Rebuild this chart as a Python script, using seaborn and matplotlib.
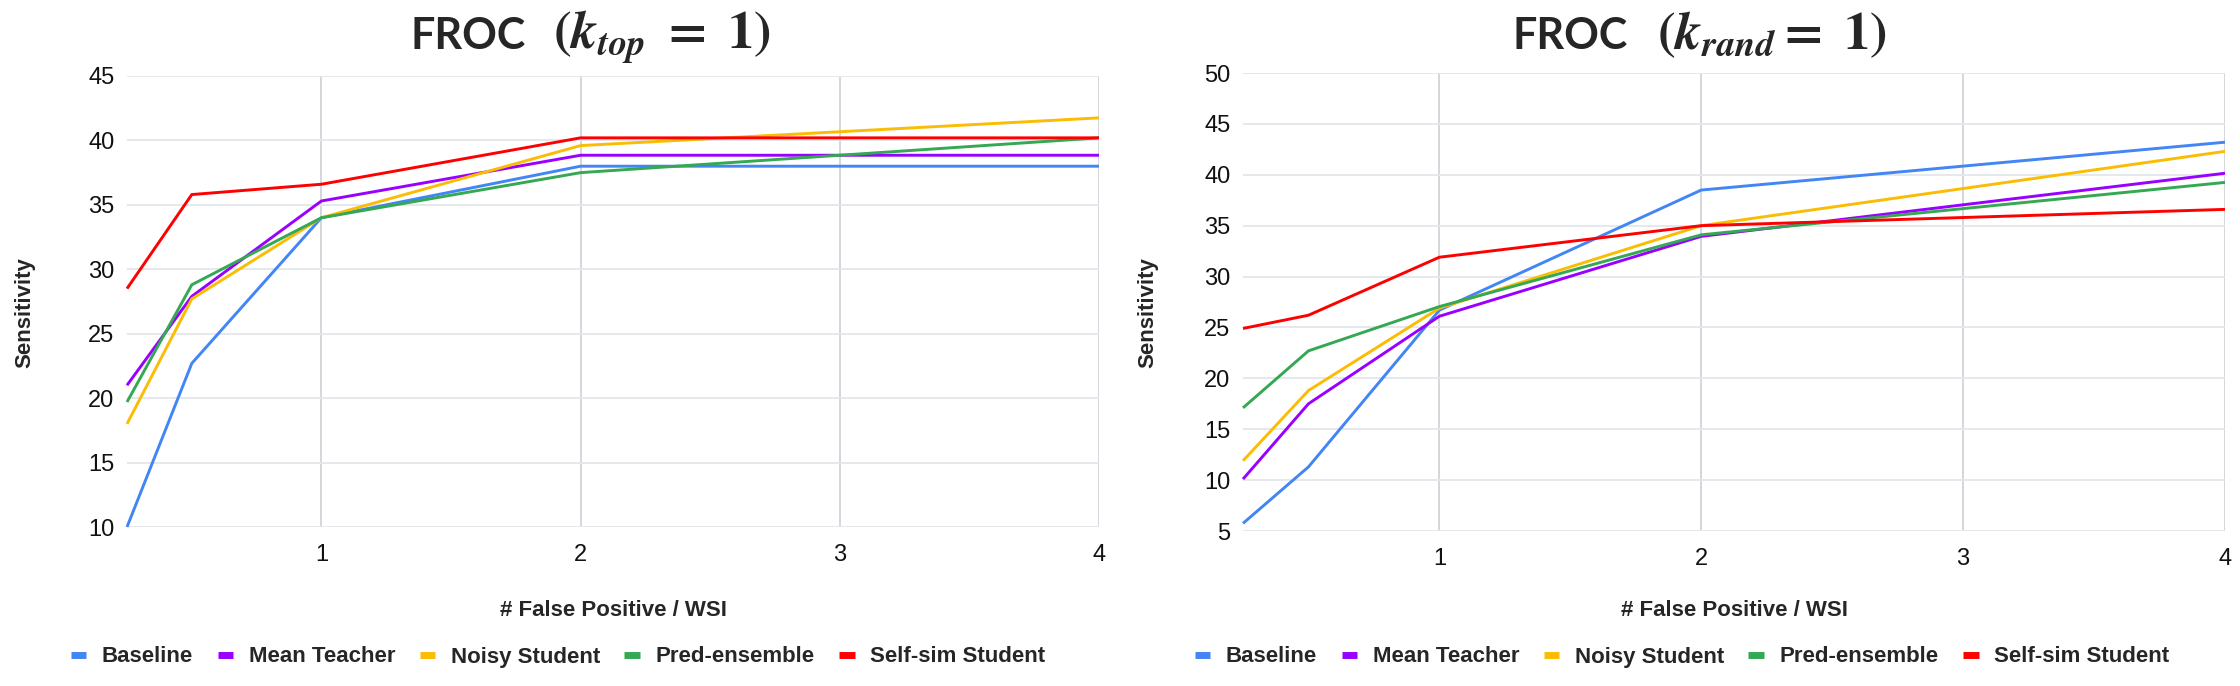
import numpy as np
import pandas as pd
import matplotlib
matplotlib.use("Agg")
import matplotlib.pyplot as plt
from matplotlib.lines import Line2D
import seaborn as sns

# ---------------- data ----------------
methods = ["Baseline", "Mean Teacher", "Noisy Student", "Pred-ensemble", "Self-sim Student"]
fp_per_wsi = [0.25, 0.5, 1, 2, 4]

top_baseline = [10.0, 22.7, 34.0, 38.0, 38.0]
top_mean_teacher = [21.0, 27.9, 35.3, 38.85, 38.85]
top_noisy_student = [18.0, 27.7, 34.0, 39.6, 41.75]
top_pred_ensemble = [19.7, 28.8, 34.0, 37.5, 40.2]
top_self_sim = [28.5, 35.8, 36.6, 40.2, 40.2]

rand_baseline = [5.75, 11.3, 26.7, 38.5, 43.2]
rand_mean_teacher = [10.1, 17.5, 26.1, 33.95, 40.15]
rand_noisy_student = [11.9, 18.8, 26.9, 35.0, 42.3]
rand_pred_ensemble = [17.1, 22.7, 27.05, 34.1, 39.25]
rand_self_sim = [24.9, 26.2, 31.9, 35.0, 36.6]

colors = ["#4285F4", "#9900FF", "#FBBC04", "#34A853", "#FF0000"]

top_series = [top_baseline, top_mean_teacher, top_noisy_student, top_pred_ensemble, top_self_sim]
rand_series = [rand_baseline, rand_mean_teacher, rand_noisy_student, rand_pred_ensemble, rand_self_sim]


def long_df(series):
    rows = []
    for m, vals in zip(methods, series):
        for x, v in zip(fp_per_wsi, vals):
            rows.append({"fp": x, "sens": v, "method": m})
    return pd.DataFrame(rows)


df_top = long_df(top_series)
df_rand = long_df(rand_series)
palette = dict(zip(methods, colors))

# ---------------- style ----------------
sns.set_style("white")
plt.rcParams["font.family"] = ["Liberation Sans", "DejaVu Sans"]
plt.rcParams["mathtext.fontset"] = "stix"

W, H = 2240, 686
fig = plt.figure(figsize=(W / 100, H / 100), dpi=100)


def fx(px):
    return px / W


def fy(py):
    return 1 - py / H


ax1 = fig.add_axes([fx(127), fy(527), fx(1099) - fx(127), fy(76) - fy(527)])
ax2 = fig.add_axes([fx(1243), fy(531), fx(2225) - fx(1243), fy(73) - fy(531)])

for ax, df, ylim in [(ax1, df_top, (10, 45)), (ax2, df_rand, (5, 50))]:
    sns.lineplot(data=df, x="fp", y="sens", hue="method", palette=palette,
                 hue_order=methods, ax=ax, linewidth=2.1, legend=False,
                 errorbar=None, sort=True)
    ax.set_xlim(0.25, 4)
    ax.set_ylim(*ylim)
    ax.set_yticks(np.arange(ylim[0], ylim[1] + 1, 5))
    ax.set_xticks([1, 2, 3, 4])
    ax.set_xticklabels(["1", "2", "3", "4"])
    ax.yaxis.grid(True, color="#e3e6ec", linewidth=1.3)
    ax.xaxis.grid(True, color="#d0d3d8", linewidth=1.3)
    ax.set_axisbelow(True)
    for s in ax.spines.values():
        s.set_visible(False)
    ax.tick_params(axis="both", length=0, labelsize=17, colors="#111111")
    ax.tick_params(axis="y", pad=9)
    ax.tick_params(axis="x", pad=12)
    ax.set_xlabel("")
    ax.set_ylabel("")
    for ln in ax.lines:
        ln.set_clip_on(False)
        ln.set_solid_capstyle("butt")
        ln.set_solid_joinstyle("miter")

# axis labels
fig.text(fx(613), fy(611), "# False Positive / WSI", ha="center", va="center",
         fontsize=16, fontweight="bold")
fig.text(fx(1734), fy(611), "# False Positive / WSI", ha="center", va="center",
         fontsize=16, fontweight="bold")
fig.text(fx(25), fy(313), "Sensitivity", ha="center", va="center", rotation=90,
         fontsize=16, fontweight="bold")
fig.text(fx(1148), fy(313), "Sensitivity", ha="center", va="center", rotation=90,
         fontsize=16, fontweight="bold")

# titles
title_kw = dict(va="baseline", ha="left", fontsize=31, fontweight="bold",
                family=["Lato", "DejaVu Sans"])
fig.text(fx(411), fy(49), "FROC", **title_kw)
fig.text(fx(553), fy(49), r"$\mathbf{(}\mathbfit{k}_{\mathbfit{top}}\ \mathbf{=}\ \mathbf{1)}$",
         va="baseline", ha="left", fontsize=38)
fig.text(fx(1512), fy(49), "FROC", **title_kw)
fig.text(fx(1657), fy(49), r"$\mathbf{(}\mathbfit{k}_{\mathbfit{rand}}\mathbf{=}\ \mathbf{1)}$",
         va="baseline", ha="left", fontsize=38)

# legends
handles = [Line2D([0], [0], color=c, lw=5, solid_capstyle="butt") for c in colors]
for cx in (558, 1682):
    fig.legend(handles, methods, loc="center", bbox_to_anchor=(fx(cx), fy(657)),
               ncol=5, frameon=False, handlelength=0.7, handletextpad=0.7,
               columnspacing=1.1, prop={"weight": "bold", "size": 16})

fig.savefig("out.png", dpi=100)
